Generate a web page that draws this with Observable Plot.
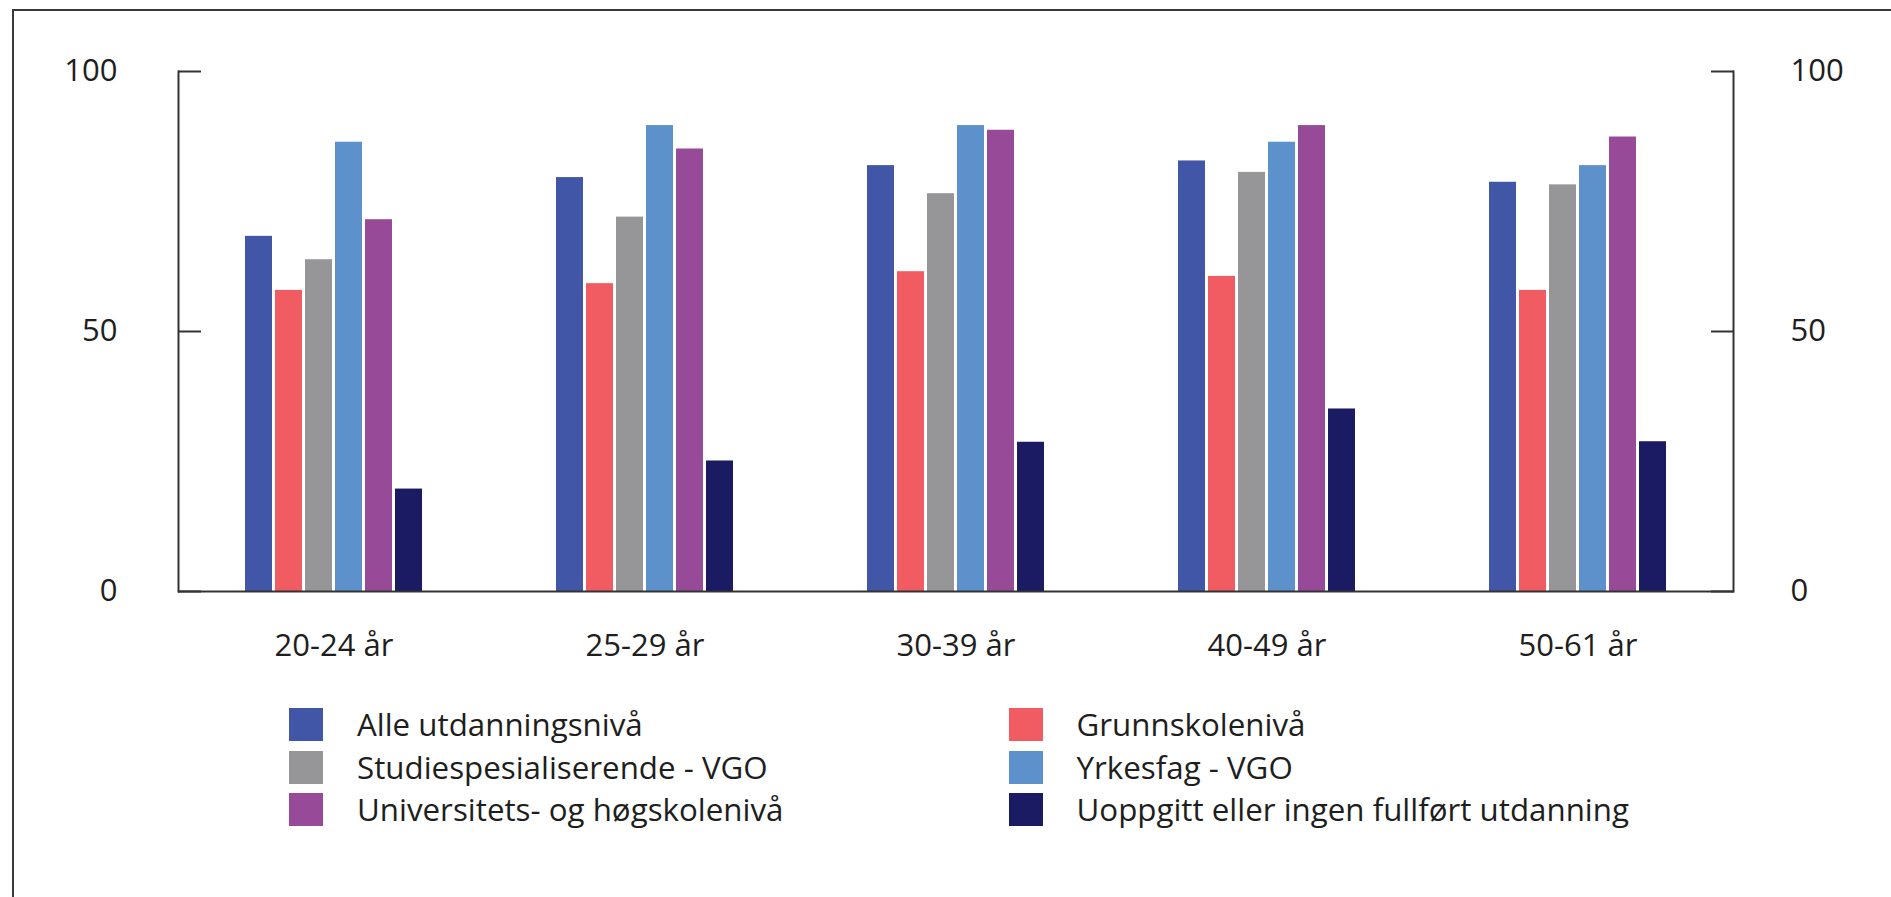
<!DOCTYPE html>
<html>
<head>
<meta charset="utf-8">
<script src="https://cdn.jsdelivr.net/npm/d3@7"></script>
<script src="https://cdn.jsdelivr.net/npm/@observablehq/plot@0.6"></script>
<style>
  html, body { margin: 0; padding: 0; background: #fff; }
  body { width: 1891px; height: 897px; position: relative; overflow: hidden; font-family: "Open Sans", sans-serif; color: #1e1e1e; }
  #frame { position: absolute; left: 12px; top: 9px; width: 3000px; height: 3000px; border-left: 2.5px solid #3a3a3a; border-top: 2.5px solid #3a3a3a; pointer-events: none; z-index: 2; }
  #chart { position: absolute; left: 0; top: 0; }
  .legend { position: absolute; top: 708px; }
  .row { display: flex; align-items: center; height: 33px; margin-bottom: 9.5px; }
  .sw { width: 34px; height: 33px; flex: none; }
  .lab { font-size: 31.3px; line-height: 33px; white-space: nowrap; color: #1e1e1e; }
</style>
</head>
<body>
<div id="frame"></div>
<div id="chart"></div>
<div class="legend" id="leg1" style="left:289px"></div>
<div class="legend" id="leg2" style="left:1009px"></div>
<script>
const ages = ["20-24 år", "25-29 år", "30-39 år", "40-49 år", "50-61 år"];
const series = [
  "Alle utdanningsnivå",
  "Grunnskolenivå",
  "Studiespesialiserende - VGO",
  "Yrkesfag - VGO",
  "Universitets- og høgskolenivå",
  "Uoppgitt eller ingen fullført utdanning"
];
const colors = ["#4156a6", "#f15c63", "#969598", "#5c91cb", "#974a98", "#1a1b62"];
const alle        = [68.3, 79.6, 81.9, 82.8, 78.7];
const grunnskole  = [57.9, 59.2, 61.5, 60.6, 57.9];
const studiespes  = [63.8, 72.0, 76.5, 80.6, 78.2];
const yrkesfag    = [86.4, 89.6, 89.6, 86.4, 81.9];
const universitet = [71.5, 85.1, 88.7, 89.6, 87.4];
const uoppgitt    = [19.7, 25.1, 28.7, 35.1, 28.8];
const yTicks = [0, 50, 100];

const valueArrays = [alle, grunnskole, studiespes, yrkesfag, universitet, uoppgitt];
const data = ages.flatMap((age, i) => series.map((s, j) => ({age, series: s, value: valueArrays[j][i]})));

const axisColor = "#333";
const chart = Plot.plot({
  width: 1891,
  height: 690,
  marginLeft: 176,
  marginRight: 157,
  marginTop: 71,
  marginBottom: 99,
  style: {fontFamily: "'Open Sans', sans-serif", fontSize: "31px", color: "#1e1e1e", background: "transparent", overflow: "visible"},
  fx: {domain: ages, padding: 0, label: null},
  x: {domain: series, paddingInner: 0.09, paddingOuter: 2.12, axis: null},
  y: {domain: [0, 100], label: null},
  color: {domain: series, range: colors},
  marks: [
    Plot.barY(data, {fx: "age", x: "series", y: "value", fill: "series"}),
    Plot.ruleY([0], {stroke: axisColor, strokeWidth: 2}),
    Plot.frame({anchor: "left", facetAnchor: "left", stroke: axisColor, strokeWidth: 2}),
    Plot.frame({anchor: "right", facetAnchor: "right", stroke: axisColor, strokeWidth: 2}),
    Plot.axisY({anchor: "left", ticks: yTicks, tickSize: 0, tickPadding: 61, label: null}),
    Plot.axisY({anchor: "right", ticks: yTicks, tickSize: 0, tickPadding: 57, label: null}),
    Plot.axisY({anchor: "left", ticks: yTicks, tickSize: 23, dx: 23, fill: "none", label: null, stroke: axisColor, strokeWidth: 2}),
    Plot.axisY({anchor: "right", ticks: yTicks, tickSize: 23, dx: -23, fill: "none", label: null, stroke: axisColor, strokeWidth: 2}),
    Plot.axisFx({anchor: "bottom", tickSize: 0, tickPadding: 42, label: null})
  ]
});
document.getElementById("chart").appendChild(chart);

function buildLegend(el, idxs) {
  idxs.forEach(i => {
    const row = document.createElement("div");
    row.className = "row";
    const sw = document.createElement("div");
    sw.className = "sw";
    sw.style.background = colors[i];
    const lab = document.createElement("div");
    lab.className = "lab";
    lab.textContent = series[i];
    lab.style.marginLeft = (i % 2 === 0 ? 34 : 33.5) + "px";
    row.appendChild(sw);
    row.appendChild(lab);
    el.appendChild(row);
  });
}
buildLegend(document.getElementById("leg1"), [0, 2, 4]);
buildLegend(document.getElementById("leg2"), [1, 3, 5]);
</script>
</body>
</html>
